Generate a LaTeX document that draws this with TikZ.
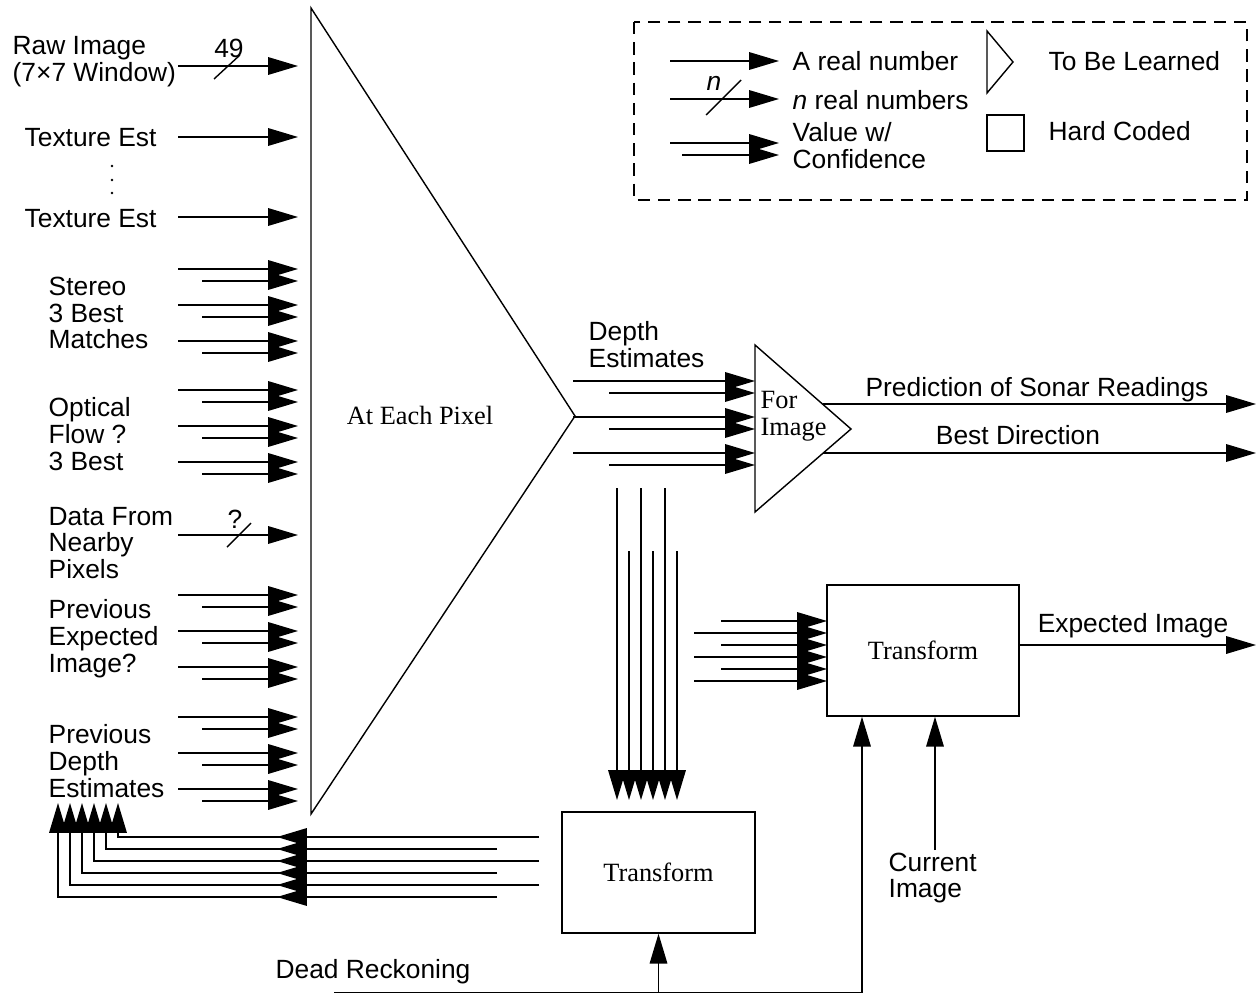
\documentclass[tikz,border=0pt]{standalone}
\usepackage{fontspec}
\setmainfont{Liberation Sans}
\newfontfamily\tms{Liberation Serif}
\usetikzlibrary{arrows.meta,calc}
\newcommand\lblsize{\fontsize{15pt}{15.3pt}\selectfont}

\begin{document}
\begin{tikzpicture}[x=0.02cm,y=-0.02cm,line width=0.8pt,font=\lblsize,
  arr/.style={-{Triangle[length=17pt,width=10pt]}},
  lbl/.style={anchor=west,align=left,inner sep=0pt},
  serif/.style={font=\lblsize\tms,align=left,inner sep=0pt},
  tbox/.style={draw,font=\lblsize\tms,inner sep=0pt}]
\useasboundingbox (0,0) rectangle (1257,993);

% legend
\draw[dash pattern=on 7pt off 4.5pt] (634,22) rectangle (1247,200);
\draw[arr] (670,61) -- (779,61);
\node[lbl] (lgone) at (792,61) {A real number};
\draw[arr] (670,99) -- (779,99);
\draw (706,115) -- (741,80);
\node[inner sep=0pt] (lgn) at (714,83) {\textit{n}};
\node[lbl] (lgmany) at (792,100) {\textit{n} real numbers};
\draw[arr] (670,143) -- (779,143);
\draw[arr] (682,155) -- (779,155);
\node[lbl] (lgconf) at (792,146) {Value w/\\Confidence};
\draw (987,31) -- (1013,62) -- (987,93) -- cycle;
\node[lbl] (lglearn) at (1048,61) {To Be Learned};
\draw (987,115) rectangle (1024,151);
\node[lbl] (lghard) at (1048,131) {Hard Coded};

% per pixel net
\draw (311,8) coordinate (pxtop) -- (575,416) coordinate (pxtip) -- (311,814) coordinate (pxbot) -- cycle;
\node[serif] (pxnet) at (420,415) {At Each Pixel};

% inputs
\node[lbl] (raw) at (12,62) {Raw Image\\(7×7 Window)};
\node[lbl] (tex1) at (24,138) {Texture Est};
\foreach \y in {166,180,193} \fill (112,\y) circle (1.4);
\node[lbl] (tex2) at (24,219) {Texture Est};
\node[lbl] (stereo) at (48,313) {Stereo\\3 Best\\Matches};
\node[lbl] (flow) at (48,434) {Optical\\Flow ?\\3 Best};
\node[lbl] (nearby) at (48,543) {Data From\\Nearby\\Pixels};
\node[lbl] (prevexp) at (48,639) {Previous\\Expected\\Image?};
\node[lbl] (prevdep) at (48,761) {Previous\\Depth\\Estimates};

\foreach \y in {66,137,217,535}
  \draw[arr] (178,\y) -- (298,\y);
\foreach \y in {269,305,341,390,426,462,595,631,667,717,753,789}{
  \draw[arr] (178,\y) -- (298,\y);
  \draw[arr] (202,\y+12) -- (298,\y+12);
}
\draw (214,79) -- (240,55);
\node[inner sep=0pt] (nraw) at (229,48) {49};
\draw (227,547) -- (251,523);
\node[inner sep=0pt] (nnear) at (235,519) {?};

% depth estimates into the image net
\node[lbl] (depth) at (588,345) {Depth\\Estimates};
\draw (755,345) coordinate (fitop) -- (851,429) coordinate (fitip) -- (755,512) coordinate (fibot) -- cycle;
\node[serif,anchor=west] (fornet) at (760,416) {For\\Image};
\foreach \y in {381,417,453}{
  \draw[arr] (573,\y) -- (755,\y);
  \draw[arr] (609,\y+12) -- (755,\y+12);
}
\draw[arr] (823,404) -- (1256,404);
\draw[arr] (823,453) -- (1256,453);
\node (sonar) at (1037,390) {Prediction of Sonar Readings};
\node (bestdir) at (1018,435) {Best Direction};

% transforms
\node[tbox,minimum width=3.84cm,minimum height=2.62cm] (tup) at (923,650.5) {Transform};
\node[tbox,minimum width=3.86cm,minimum height=2.42cm] (tlow) at (658.5,872.5) {Transform};
\foreach \x in {617,641,665}
  \draw[arr] (\x,488) -- (\x,800);
\foreach \x in {629,653,677}
  \draw[arr] (\x,551) -- (\x,800);
\foreach \y in {633,657,681}
  \draw[arr] (694,\y) -- (827,\y);
\foreach \y in {621,645,669}
  \draw[arr] (721,\y) -- (827,\y);
\coordinate (expout) at (1256,645);
\draw[arr] (tup.east |- expout) -- (expout);
\node (expimg) at (1133,626) {Expected Image};

% feedback of depth estimates
\foreach \k/\xr in {0/539,1/497,2/539,3/497,4/539,5/497}{
  \draw[arr] (\xr,837+12*\k) -- (277,837+12*\k);
  \draw[arr] (300,837+12*\k) -| (118-12*\k,803);
}

% dead reckoning and current image
\node (dead) at (373,972) {Dead Reckoning};
\coordinate (drs) at (334,993);
\coordinate (drc) at (862,993);
\draw[arr] (drs) -- (drc) -- (drc |- tup.south);
\draw[arr] (tlow.south |- drs) -- (tlow.south);
\node[lbl] (curimg) at (888,878) {Current\\Image};
\coordinate (curb) at (935,850);
\draw[arr] (curb) -- (curb |- tup.south);
\end{tikzpicture}
\end{document}
